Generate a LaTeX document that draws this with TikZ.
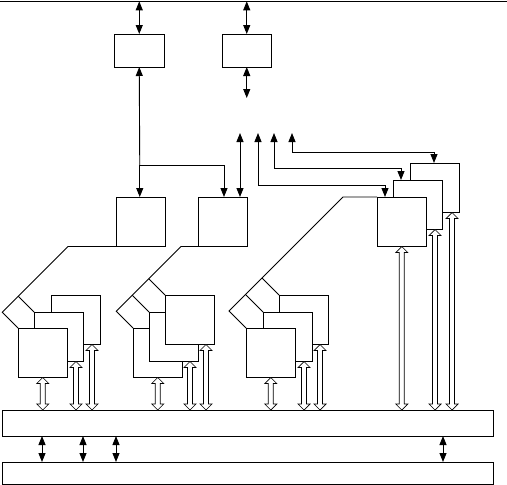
\documentclass[tikz,border=0pt]{standalone}
\usetikzlibrary{arrows.meta,calc}
\begin{document}
\begin{tikzpicture}[x=1pt,y=-1pt,line width=0.9pt,
  box/.style={draw,fill=white,inner sep=0pt,outer sep=0pt,anchor=north west},
  gbox/.style={box,minimum width=49.5pt,minimum height=49.5pt},
  sbox/.style={box,minimum width=49.5pt,minimum height=33pt},
  bus/.style={box,minimum width=491pt},
  dbl/.style={{Triangle[length=9pt,width=7pt]}-{Triangle[length=9pt,width=7pt]}},
  sgl/.style={-{Triangle[length=9pt,width=7pt]}},
  hollow/.style={line width=0.7pt,fill=white,to path={let \p1=(\tikztostart),\p2=(\tikztotarget) in
     (\x1,\y1) -- (\x1+6pt,\y1-6pt) -- (\x1+2.5pt,\y1-6pt) -- (\x1+2.5pt,\y2+6pt) -- (\x1+6pt,\y2+6pt) -- (\x1,\y2) -- (\x1-6pt,\y2+6pt) -- (\x1-2.5pt,\y2+6pt) -- (\x1-2.5pt,\y1-6pt) -- (\x1-6pt,\y1-6pt) -- cycle}}]
\useasboundingbox (0,0) rectangle (507,485);
% top line
\coordinate (tl) at (0,1.3);
\coordinate (tr) at (507,1.3);
\draw (tl) -- (tr);
% top boxes
\node[sbox] (A) at (114.5,34) {};
\node[sbox] (B) at (222,34) {};
\coordinate (Bout) at (246.75,98);
\draw[dbl] (tl -| A.south) -- (A.north);
\draw[dbl] (tl -| B.south) -- (B.north);
\draw[dbl] (B.south) -- (Bout);
% C and D
\node[gbox] (C) at (116,197) {};
\node[gbox] (D) at (198,197) {};
\coordinate (J1) at (139.75,165);
\coordinate (J2) at (224,165);
\draw[sgl] (J1) -- (A.south);
\draw[sgl] (J1) -- (J1 |- C.north);
\draw[sgl] (J1) -- (J2) -- (J2 |- D.north);
\coordinate (d0) at (240,133);
\draw[dbl] (d0) -- (d0 |- D.north);
% group 4
\node[gbox] (g4c) at (410,163) {};
\node[gbox] (g4b) at (393,180) {};
\node[gbox] (g4a) at (377,197) {};
\coordinate (u1) at (258,133);
\coordinate (u2) at (274,133);
\coordinate (u3) at (292,133);
\coordinate (k1) at (385,185);
\coordinate (k2) at (401,168);
\coordinate (k3) at (434,152);
\draw[dbl] (u1) |- (k1) -- (k1 |- g4a.north);
\draw[dbl] (u2) |- (k2) -- (k2 |- g4b.north);
\draw[dbl] (u3) |- (k3) -- (k3 |- g4c.north);
% group 1 (front on top)
\node[gbox] (g1c) at (51,295) {};
\node[gbox] (g1b) at (34,312) {};
\node[gbox] (g1a) at (18,328) {};
\coordinate (t1) at (68,246.5);
\coordinate (c1a) at (2.25,312.25);
\coordinate (c1b) at (18.25,296.25);
\draw (C.south west) -- (t1) -- (c1a) -- (g1a.north west);
\draw (c1b) -- (g1b.north west);
% group 2 (back on top)
\node[gbox] (g2a) at (133,328) {};
\node[gbox] (g2b) at (149,312) {};
\node[gbox] (g2c) at (165,295) {};
\coordinate (t2) at (181,246.5);
\coordinate (c2a) at (116.25,311.25);
\coordinate (c2b) at (132.25,295.25);
\coordinate (c2c) at (148.75,278.75);
\draw (D.south west) -- (t2) -- (c2a) -- (g2a.north west);
\draw (c2b) -- (g2b.north west);
\draw (c2c) -- (g2c.north west);
% group 3 (front on top)
\node[gbox] (g3c) at (279,295) {};
\node[gbox] (g3b) at (263,312) {};
\node[gbox] (g3a) at (246,328) {};
\coordinate (t3) at (343,197);
\coordinate (c3a) at (229,311);
\coordinate (c3b) at (245.5,294.5);
\coordinate (c3c) at (262,278);
\draw (g4a.north west) -- (t3) -- (c3a) -- (g3a.north west);
\draw (c3b) -- (g3b.north west);
\draw (c3c) -- (g3c.north west);
% buses
\node[bus,minimum height=26pt] (bus1) at (2,410) {};
\node[bus,minimum height=22pt] (bus2) at (2,462) {};
% hollow arrows
\draw[hollow] (g1a.south) to (g1a.south |- bus1.north);
\draw[hollow] (76,0 |- g1b.south) to (76,0 |- bus1.north);
\draw[hollow] (92,0 |- g1c.south) to (92,0 |- bus1.north);
\draw[hollow] (g2a.south) to (g2a.south |- bus1.north);
\draw[hollow] (190,0 |- g2b.south) to (190,0 |- bus1.north);
\draw[hollow] (206,0 |- g2c.south) to (206,0 |- bus1.north);
\draw[hollow] (g3a.south) to (g3a.south |- bus1.north);
\draw[hollow] (304,0 |- g3b.south) to (304,0 |- bus1.north);
\draw[hollow] (320,0 |- g3c.south) to (320,0 |- bus1.north);
\draw[hollow] (g4a.south) to (g4a.south |- bus1.north);
\draw[hollow] (435,0 |- g4b.south) to (435,0 |- bus1.north);
\draw[hollow] (452,0 |- g4c.south) to (452,0 |- bus1.north);
% bus-to-bus arrows
\draw[dbl] (42,0 |- bus1.south) -- (42,0 |- bus2.north);
\draw[dbl] (83,0 |- bus1.south) -- (83,0 |- bus2.north);
\draw[dbl] (116,0 |- bus1.south) -- (116,0 |- bus2.north);
\draw[dbl] (443,0 |- bus1.south) -- (443,0 |- bus2.north);
\end{tikzpicture}
\end{document}
